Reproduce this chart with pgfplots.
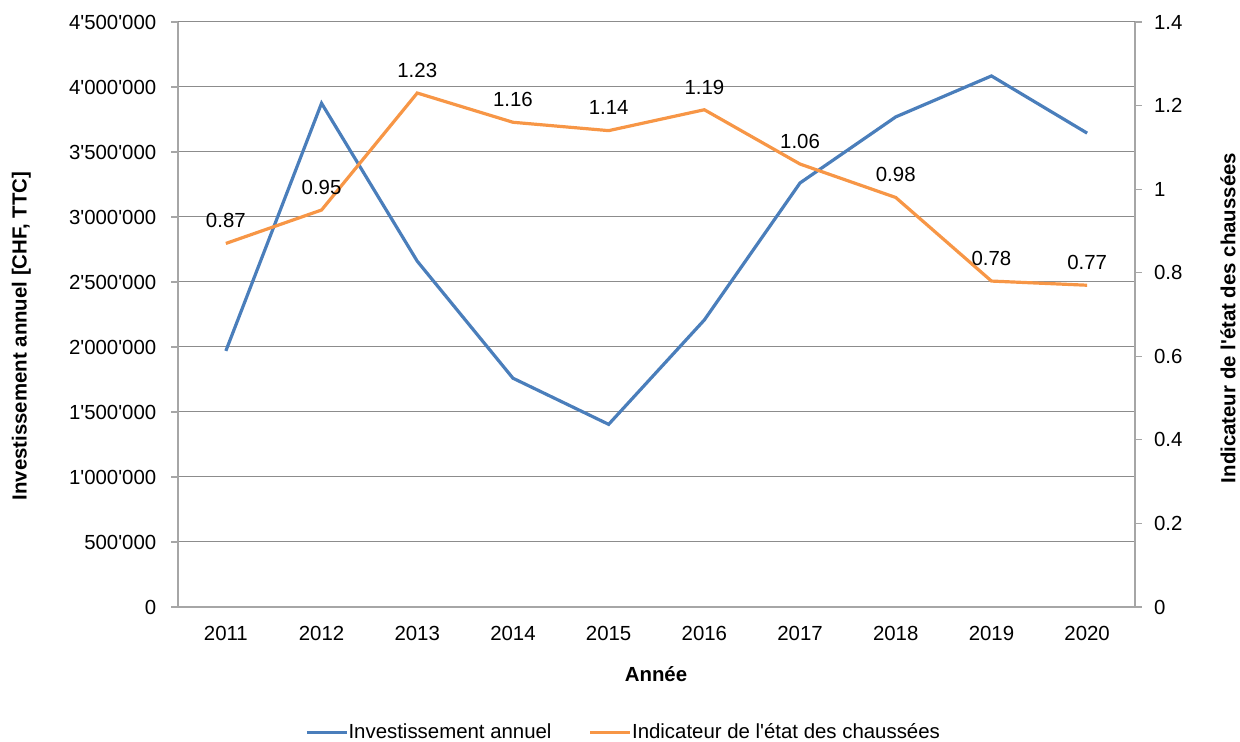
\documentclass[border=0pt]{standalone}
\usepackage{pgfplots}
\pgfplotsset{compat=1.18}
\usepackage{fontspec}
\setmainfont{Liberation Sans}[Ligatures=TeXOff]
\definecolor{invblue}{HTML}{4A7EBB}
\definecolor{indorange}{HTML}{F79646}
\definecolor{gridgray}{HTML}{8C8C8C}
\definecolor{axgray}{HTML}{A6A6A6}
\newcommand{\chartfont}{\fontsize{15.3}{18}\selectfont}
\begin{document}
\chartfont
\begin{tikzpicture}
\useasboundingbox (0,0) rectangle (930pt,556.5pt);
\pgfplotsset{
  every axis/.append style={
    at={(133.5pt,101.25pt)}, anchor=south west,
    scale only axis, width=717.75pt, height=438.75pt,
    xmin=0.5, xmax=10.5,
    font=\chartfont,
    tick align=outside,
    /pgf/number format/assume math mode=true,
    tick style={color=axgray, line width=0.9pt},
    major tick length=5pt, minor tick length=5pt,
  },
}
\begin{axis}[
  ymin=0, ymax=4500000,
  axis x line*=bottom, axis y line*=left,
  axis line style={color=axgray, line width=0.9pt},
  ytick={0,500000,1000000,1500000,2000000,2500000,3000000,3500000,4000000,4500000},
  yticklabels={0,500'000,1'000'000,1'500'000,2'000'000,2'500'000,3'000'000,3'500'000,4'000'000,4'500'000},
  scaled y ticks=false,
  ymajorgrids, grid style={color=gridgray, line width=0.75pt},
  xtick={1,...,10},
  xticklabels={2011,2012,2013,2014,2015,2016,2017,2018,2019,2020},
  x tick style={draw=none},
  minor xtick={0.5,1.5,...,10.5},
  minor x tick style={color=axgray, line width=0.9pt},
  yticklabel style={xshift=-6pt},
  xticklabel style={yshift=-4pt},
]
\addplot[color=invblue, line width=2.4pt] coordinates {
(1,1970000) (2,3875000) (3,2660000) (4,1760000) (5,1405000)
(6,2208000) (7,3262000) (8,3770000) (9,4085000) (10,3645000)
};
\end{axis}
\begin{axis}[
  ymin=0, ymax=1.4,
  axis x line=none, axis y line*=right,
  axis line style={color=axgray, line width=0.9pt},
  ytick={0,0.2,0.4,0.6,0.8,1,1.2,1.4},
  yticklabels={0,0.2,0.4,0.6,0.8,1,1.2,1.4},
  yticklabel style={xshift=4pt},
  legend style={draw=none, fill=none, at={(0.466,-0.215)}, anchor=center,
    legend columns=2, font=\chartfont,
    /tikz/every even column/.append style={column sep=26pt},
    inner sep=0pt},
  legend image code/.code={\draw[#1] (0pt,0pt) -- (30pt,0pt);},
  legend cell align=left,
  nodes near coords,
  point meta=explicit symbolic,
  every node near coord/.append style={anchor=center, yshift=17pt, font=\chartfont, text=black},
]
\addlegendimage{color=invblue, line width=2.4pt}
\addlegendentry{\hspace{-2pt}Investissement annuel}
\addplot[color=indorange, line width=2.4pt] coordinates {
(1,0.87) [0.87] (2,0.95) [0.95] (3,1.23) [1.23] (4,1.16) [1.16] (5,1.14) [1.14]
(6,1.19) [1.19] (7,1.06) [1.06] (8,0.98) [0.98] (9,0.78) [0.78] (10,0.77) [0.77]
};
\addlegendentry{\hspace{-2pt}Indicateur de l'état des chaussées}
\end{axis}
\node[rotate=90, font=\chartfont\bfseries] at (16pt,304.5pt) {Investissement annuel [CHF, TTC]};
\node[rotate=90, font=\chartfont\bfseries] at (921pt,318pt) {Indicateur de l'état des chaussées};
\node[font=\chartfont\bfseries] at (492pt,51pt) {Année};
\end{tikzpicture}
\end{document}
